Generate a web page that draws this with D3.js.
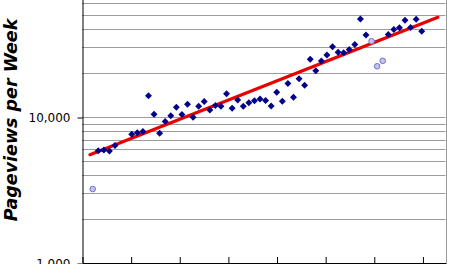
<!DOCTYPE html>
<html>
<head>
<meta charset="utf-8">
<script src="https://cdn.jsdelivr.net/npm/d3@7"></script>
<style>
  body { margin: 0; background: #fff; }
  svg { display: block; overflow: hidden; }
</style>
</head>
<body>
<div id="chart"></div>
<script>
// weekly pageviews, week 0 = first week shown
var weeks = [1, 2, 3, 4, 7, 8, 9, 10, 11, 12, 13, 14, 15, 16, 17, 18, 19, 20,
  21, 22, 23, 24, 25, 26, 27, 28, 29, 30, 31, 32, 33, 34, 35, 36, 37, 38, 39, 40,
  41, 42, 43, 44, 45, 46, 47, 48, 49, 53, 54, 55, 56, 57, 58, 59];
var pageviews = [5880, 5940, 5850, 6380, 7610, 7790, 7960, 13990, 10440, 7730,
  9320, 10210, 11670, 10400, 12240, 9970, 11840, 12780, 11170, 11990, 11840,
  14440, 11470, 13070, 11860, 12510, 12930, 13280, 12970, 11900, 14790, 12810,
  16960, 13640, 18260, 16510, 24850, 20720, 24190, 26590, 30300, 27750, 27530,
  29000, 31380, 46910, 36440, 36730, 39740, 40830, 46030, 41020, 46700, 38640];

// weeks drawn in the pale style
var paleWeeks = [0, 50, 51, 52];
var paleViews = [3210, 33050, 22250, 24260];

// exponential trend line, end points
var trendWeeks = [-0.5, 61.9];
var trendViews = [5520, 48180];

var yTicks = [1000, 10000, 100000];
var yGrid = [2000, 3000, 4000, 5000, 6000, 7000, 8000, 9000, 10000,
  20000, 30000, 40000, 50000, 60000, 70000, 80000, 90000];
var xStart = -1.92, xEnd = 63.26, xStep = 8.72;

var width = 450, height = 264;
var plotLeft = 82, plotRight = 445.5, plotBottom = 263, plotTop = -29;

var svg = d3.select("#chart").append("svg")
  .attr("width", width)
  .attr("height", height);

var x = d3.scaleLinear().domain([xStart, xEnd]).range([plotLeft, plotRight]);
var y = d3.scaleLog().domain([1000, 100000]).range([plotBottom, plotTop]);

var snap = v => Math.round(v) + 0.5;

/* grid */
svg.append("g")
  .selectAll("line")
  .data(yGrid).enter()
  .append("line")
  .attr("x1", plotLeft).attr("x2", plotRight)
  .attr("y1", d => snap(y(d))).attr("y2", d => snap(y(d)))
  .attr("stroke", "#9c9c9c")
  .attr("stroke-width", 1);

// right border of the plot
svg.append("line")
  .attr("x1", snap(plotRight)).attr("x2", snap(plotRight))
  .attr("y1", plotTop).attr("y2", plotBottom)
  .attr("stroke", "#9c9c9c");

/* axes */
var xTicks = d3.range(xStart, xEnd, xStep);
svg.append("g")
  .attr("transform", `translate(0.5, ${snap(plotBottom) - 0.5})`)
  .call(d3.axisBottom(x).tickValues(xTicks).tickSize(-6).tickSizeOuter(0).tickFormat(""))
  .call(g => g.selectAll("line,path").attr("stroke", "#000"));

svg.append("g")
  .attr("transform", `translate(${snap(plotLeft)}, 0.5)`)
  .call(d3.axisLeft(y).tickValues(yTicks).tickSize(5).tickSizeOuter(0)
    .tickPadding(7).tickFormat(d3.format(",")))
  .call(g => g.selectAll("line,path").attr("stroke", "#000"))
  .call(g => g.selectAll("text")
    .attr("font-family", "'DejaVu Sans', Verdana, sans-serif")
    .attr("font-size", "12px")
    .attr("fill", "#000"));

/* trend line */
var line = d3.line()
  .x(d => x(d[0]))
  .y(d => y(d[1]));

svg.append("path")
  .attr("d", line(d3.zip(trendWeeks, trendViews)))
  .attr("fill", "none")
  .attr("stroke", "#e80000")
  .attr("stroke-width", 3.2)
  .attr("stroke-linecap", "round");

/* points */
var diamond = d3.symbol(d3.symbolSquare, 24);

svg.append("g")
  .selectAll("path")
  .data(d3.zip(weeks, pageviews)).enter()
  .append("path")
  .attr("d", diamond)
  .attr("transform", d => `translate(${x(d[0])}, ${y(d[1])}) rotate(45)`)
  .attr("fill", "#00008c");

svg.append("g")
  .selectAll("circle")
  .data(d3.zip(paleWeeks, paleViews)).enter()
  .append("circle")
  .attr("cx", d => x(d[0]))
  .attr("cy", d => y(d[1]))
  .attr("r", 2.8)
  .attr("fill", "#c4c4ee")
  .attr("stroke", "#7070c8")
  .attr("stroke-width", 1);

/* y title */
svg.append("text")
  .attr("transform", "translate(17, 120) rotate(-90)")
  .attr("text-anchor", "middle")
  .attr("font-family", "'DejaVu Sans', Verdana, sans-serif")
  .attr("font-size", "17.5px")
  .attr("font-weight", "bold")
  .attr("font-style", "italic")
  .attr("fill", "#000")
  .text("Pageviews per Week");
</script>
</body>
</html>
